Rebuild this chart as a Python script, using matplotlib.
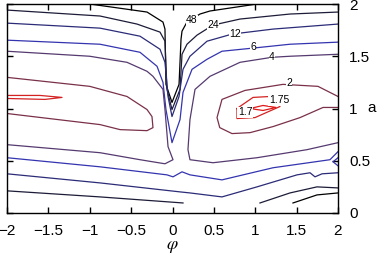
import matplotlib
matplotlib.use("Agg")
import matplotlib.pyplot as plt

plt.rcParams['font.family'] = ['Liberation Sans', 'DejaVu Sans']
plt.rcParams['mathtext.fontset'] = 'stix'

# contour lines: (phi, a) pairs
c48_top = [(-1.00, 2.0), (-0.308, 1.923), (-0.115, 1.827), (-0.091, 1.760), (-0.079, 1.231),
           (-0.006, 1.058), (0.079, 1.231), (0.103, 1.663), (0.115, 1.740), (0.175, 1.827),
           (0.332, 1.904), (0.453, 1.933), (1.021, 2.0)]
c24_top = [(-2, 1.942), (-0.876, 1.885), (-0.429, 1.808), (-0.151, 1.731), (-0.091, 1.644),
           (-0.067, 1.183), (-0.006, 0.990), (0.091, 1.183), (0.115, 1.519), (0.175, 1.615),
           (0.296, 1.702), (0.489, 1.798), (0.816, 1.856), (1.420, 1.904), (2.0, 1.923)]
c12_top = [(-2, 1.817), (-0.876, 1.769), (-0.393, 1.692), (-0.151, 1.567), (-0.091, 1.442),
           (-0.054, 1.115), (-0.006, 0.923), (0.079, 1.115), (0.127, 1.375), (0.211, 1.500),
           (0.417, 1.644), (0.719, 1.712), (1.215, 1.760), (2.0, 1.808)]
c6_top = [(-2, 1.654), (-0.876, 1.615), (-0.393, 1.538), (-0.187, 1.404), (-0.115, 1.250),
          (-0.079, 0.990), (-0.006, 0.673), (0.091, 0.894), (0.127, 1.154), (0.236, 1.375),
          (0.417, 1.471), (0.598, 1.548), (0.961, 1.577), (1.420, 1.615), (2.0, 1.635)]
c4_left = [(-2, 1.548), (-1.0, 1.500), (-0.550, 1.442), (-0.308, 1.356), (-0.236, 1.308),
           (-0.115, 1.183), (-0.091, 0.990), (-0.054, 0.635), (0.006, 0.510), (-0.091, 0.471),
           (-0.393, 0.510), (-0.876, 0.577), (-2, 0.654)]
c4_right = [(2.0, 1.519), (1.420, 1.500), (1.202, 1.490), (0.816, 1.442), (0.453, 1.308),
            (0.272, 1.183), (0.211, 0.894), (0.187, 0.606), (0.211, 0.510), (0.489, 0.481),
            (1.021, 0.529), (1.625, 0.606), (2.0, 0.673)]
c2_left = [(-2, 1.298), (-1.0, 1.212), (-0.550, 1.115), (-0.308, 0.990), (-0.248, 0.923),
           (-0.236, 0.817), (-0.308, 0.788), (-0.634, 0.798), (-0.876, 0.846), (-2, 0.952)]
c2_right = [(2.0, 1.115), (1.758, 1.212), (1.335, 1.231), (0.876, 1.173), (0.598, 1.087),
            (0.538, 0.913), (0.571, 0.817), (0.719, 0.760), (0.937, 0.769), (1.215, 0.827),
            (1.541, 0.913), (1.819, 1.010), (2.0, 1.010)]
c175_right = [(0.779, 1.0), (0.973, 1.106), (1.178, 1.115), (1.299, 1.019), (0.997, 0.913),
              (0.779, 0.904), (0.779, 1.0)]
c175_left = [(-2, 1.125), (-1.601, 1.125), (-1.335, 1.106), (-1.541, 1.087), (-2, 1.096)]
c17_right = [(0.937, 1.0), (1.094, 1.029), (1.251, 1.010), (1.094, 0.981), (0.937, 1.0)]
c6_low = [(-2, 0.529), (-0.876, 0.442), (-0.067, 0.365), (0.006, 0.346), (0.115, 0.394),
          (0.211, 0.365), (0.598, 0.317), (1.215, 0.433), (1.903, 0.510), (2.0, 0.587)]
c6_edge = [(2.0, 0.529), (1.940, 0.490), (2.0, 0.452)]
c12_low = [(-2, 0.375), (-0.876, 0.288), (0.091, 0.202), (0.211, 0.192), (0.598, 0.154),
           (1.021, 0.250), (1.505, 0.365), (1.662, 0.385), (1.722, 0.346), (1.807, 0.375),
           (2.0, 0.385)]
c24_low_left = [(-2, 0.212), (-0.876, 0.154), (0.127, 0.096)]
c24_low_right = [(1.057, 0.096), (1.420, 0.192), (1.746, 0.250), (2.0, 0.240)]
c48_low = [(1.456, 0.096), (1.746, 0.173), (2.0, 0.192)]

level_colors = {48: '#000000', 24: '#1c1c38', 12: '#2b2b78', 6: '#3434b0',
                4: '#553a70', 2: '#7a3048', 1.75: '#d42222', 1.7: '#e01818'}

lines = [(c48_top, 48), (c24_top, 24), (c12_top, 12), (c6_top, 6), (c4_left, 4),
         (c4_right, 4), (c2_left, 2), (c2_right, 2), (c175_right, 1.75), (c175_left, 1.75),
         (c17_right, 1.7), (c6_low, 6), (c6_edge, 6), (c12_low, 12), (c24_low_left, 24),
         (c24_low_right, 24), (c48_low, 48)]

# inline contour labels (level, phi, a)
label_levels = [48, 24, 12, 6, 4, 2, 1.75, 1.7]
label_phi = [0.236, 0.489, 0.755, 0.973, 1.202, 1.408, 1.287, 0.876]
label_a = [1.846, 1.798, 1.712, 1.587, 1.490, 1.240, 1.077, 0.962]

fig = plt.figure(figsize=(3.81, 2.54), dpi=100)
ax = fig.add_axes([7 / 381, 1 - 213 / 254, 331 / 381, 209 / 254])

for pts, lev in lines:
    xs = [p[0] for p in pts]
    ys = [p[1] for p in pts]
    ax.plot(xs, ys, color=level_colors[lev], lw=0.9)

for lev, x, y in zip(label_levels, label_phi, label_a):
    ax.text(x, y, f'{lev:g}', fontsize=7.5, ha='center', va='center',
            bbox=dict(facecolor='white', edgecolor='none', pad=0.3))

ax.set_xlim(-2, 2)
ax.set_ylim(0, 2)
ax.set_xticks([-2, -1.5, -1, -0.5, 0, 0.5, 1, 1.5, 2])
ax.set_xticklabels(['\u22122', '\u22121.5', '\u22121', '\u22120.5', '0', '0.5', '1', '1.5', '2'])
ax.set_yticks([0, 0.5, 1, 1.5, 2])
ax.set_yticklabels(['0', '0.5', '1', '1.5', '2'])
ax.tick_params(direction='in', top=True, right=True, left=True, bottom=True,
               labelleft=False, labelright=True, length=4, width=1, labelsize=11, pad=8)
for s in ax.spines.values():
    s.set_linewidth(1.0)

ax.set_xlabel(r'$\varphi$', fontsize=13, labelpad=0)
fig.text(372 / 381, 1 - 108 / 254, 'a', fontsize=11, ha='center', va='center')

fig.savefig('out.png', dpi=100)
